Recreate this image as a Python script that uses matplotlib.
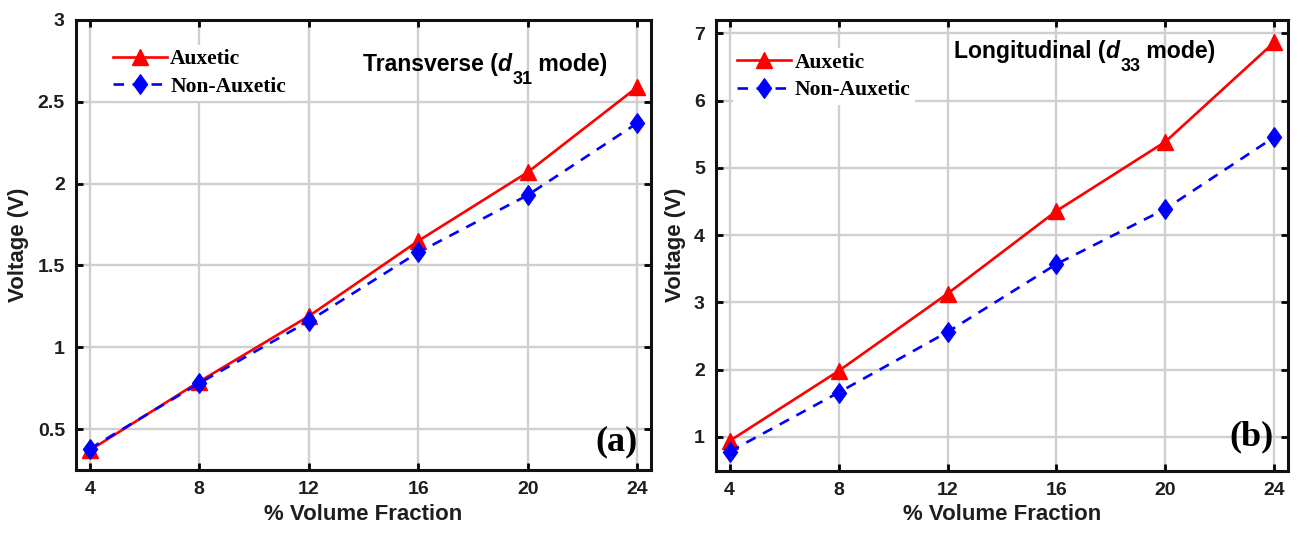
import matplotlib
matplotlib.use("Agg")
import matplotlib.pyplot as plt
from matplotlib.path import Path

# ---- data -------------------------------------------------------------
volume_fraction = [4, 8, 12, 16, 20, 24]

transverse_auxetic = [0.37, 0.79, 1.19, 1.65, 2.07, 2.59]
transverse_non_auxetic = [0.38, 0.78, 1.16, 1.58, 1.93, 2.37]

longitudinal_auxetic = [0.94, 1.98, 3.13, 4.36, 5.39, 6.87]
longitudinal_non_auxetic = [0.78, 1.66, 2.56, 3.57, 4.39, 5.46]

x_ticks = [4, 8, 12, 16, 20, 24]
y_ticks_a = [0.5, 1, 1.5, 2, 2.5, 3]
y_tick_labels_a = ["0.5", "1", "1.5", "2", "2.5", "3"]
y_ticks_b = [1, 2, 3, 4, 5, 6, 7]

series_labels = ["Auxetic", "Non-Auxetic"]
# title pieces: lead text, italic symbol, subscript, trailing text
title_a = ("Transverse (", "d", "31", " mode)")
title_b = ("Longitudinal (", "d", "33", " mode)")
panel_tags = ["(a)", "(b)"]

# ---- styling ----------------------------------------------------------
plt.rcParams["font.family"] = ["Liberation Sans", "DejaVu Sans"]

TEXT = "#1e1e1e"
RED = "#ff0000"
BLUE = "#0000ff"
GRID = "#cfcfcf"

diamond = Path([(0, 1), (0.72, 0), (0, -1), (-0.72, 0), (0, 1)],
               [Path.MOVETO, Path.LINETO, Path.LINETO, Path.LINETO, Path.CLOSEPOLY])

W, H = 1301, 533
fig = plt.figure(figsize=(W / 100, H / 100), dpi=100)

ax_a = fig.add_axes([76 / W, 63 / H, 575 / W, 450 / H])
ax_b = fig.add_axes([716 / W, 62.5 / H, 572 / W, 450.5 / H])


def style_axes(ax, ylim, yticks, yticklabels=None):
    ax.set_xlim(3.5, 24.5)
    ax.set_ylim(*ylim)
    ax.set_xticks(x_ticks)
    ax.set_yticks(yticks)
    if yticklabels is not None:
        ax.set_yticklabels(yticklabels)
    ax.grid(True, color=GRID, linewidth=1.7, zorder=0)
    ax.set_axisbelow(True)
    ax.tick_params(direction="in", length=5, width=2, top=True, right=True,
                   labelsize=14, colors="black", labelcolor=TEXT, pad=8)
    for lab in ax.get_xticklabels() + ax.get_yticklabels():
        lab.set_fontweight("bold")
    for sp in ax.spines.values():
        sp.set_linewidth(2.2)
        sp.set_color("#111111")
    ax.set_xlabel("% Volume Fraction", fontsize=16, fontweight="bold",
                  color=TEXT, labelpad=4)
    ax.set_ylabel("Voltage (V)", fontsize=16, fontweight="bold",
                  color=TEXT, labelpad=6)


def draw_series(ax, aux, non_aux):
    ax.plot(volume_fraction, aux, color=RED, linewidth=1.9, marker="^",
            markersize=12, markerfacecolor=RED, markeredgecolor=RED,
            label=series_labels[0], zorder=3)
    ax.plot(volume_fraction, non_aux, color=BLUE, linewidth=1.9,
            linestyle=(0, (4, 3.2)), marker=diamond, markersize=14,
            markerfacecolor=BLUE, markeredgecolor=BLUE,
            label=series_labels[1], zorder=4)


def add_legend(ax, anchor):
    leg = ax.legend(loc="upper left", bbox_to_anchor=anchor,
                    prop={"family": "Liberation Serif", "weight": "bold",
                          "size": 15.5},
                    frameon=True, facecolor="white", edgecolor="none",
                    framealpha=1, fancybox=False, borderpad=0.2,
                    borderaxespad=0, handlelength=2.5, handletextpad=0.15,
                    labelspacing=0.35)
    leg.get_frame().set_linewidth(0)
    return leg


def add_mode_title(ax, x0, y_base, parts):
    """Write 'Name (d_xy mode)' with a large, dropped subscript."""
    lead, sym, sub, tail = parts
    kw = dict(fontsize=16.6, fontweight="bold", color="black", zorder=5,
              va="baseline", ha="left")
    t1 = ax.text(x0, y_base, lead, transform=ax.transAxes, **kw)
    t2 = ax.annotate(sym, xy=(1, y_base), xycoords=(t1, ax.transAxes),
                     style="italic", **kw)
    sub_kw = dict(kw, fontsize=13)
    t3 = ax.annotate(sub, xy=(1, y_base), xycoords=(t2, ax.transAxes),
                     xytext=(0.5, -9.5), textcoords="offset points", **sub_kw)
    ax.annotate(tail, xy=(1, y_base), xycoords=(t3, ax.transAxes), **kw)


# panel (a)
style_axes(ax_a, (0.25, 3.0), y_ticks_a, y_tick_labels_a)
draw_series(ax_a, transverse_auxetic, transverse_non_auxetic)
add_legend(ax_a, (0.057, 0.945))
add_mode_title(ax_a, 0.499, 0.887, title_a)
ax_a.text(0.977, 0.063, panel_tags[0], transform=ax_a.transAxes,
          ha="right", va="center", fontsize=26, family="Liberation Serif",
          fontweight="bold", color="black", zorder=5)

# panel (b)
style_axes(ax_b, (0.5, 7.2), y_ticks_b)
draw_series(ax_b, longitudinal_auxetic, longitudinal_non_auxetic)
add_legend(ax_b, (0.03, 0.937))
add_mode_title(ax_b, 0.416, 0.916, title_b)
ax_b.text(0.974, 0.074, panel_tags[1], transform=ax_b.transAxes,
          ha="right", va="center", fontsize=26, family="Liberation Serif",
          fontweight="bold", color="black", zorder=5)

fig.savefig("out.png", dpi=100, facecolor="white")
